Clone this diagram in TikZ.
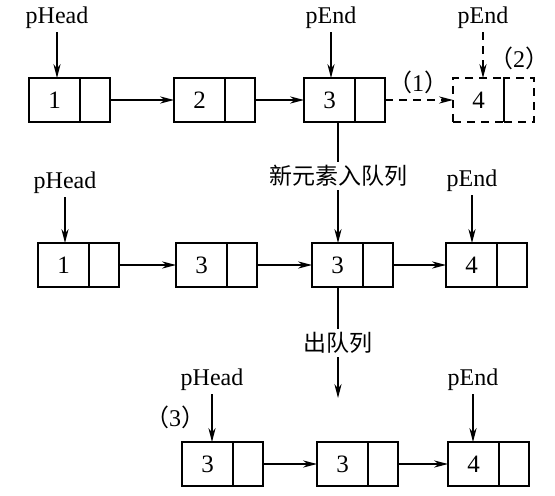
\documentclass[tikz,border=0pt]{standalone}
\usepackage{fontspec}
\setmainfont{Liberation Serif}
\newfontfamily\cjk{Noto Sans CJK SC}
\usetikzlibrary{arrows.meta}

\tikzset{
  dat/.style={draw, line width=0.9pt, minimum width=25.5pt, minimum height=22pt, inner sep=0pt, outer sep=0pt, anchor=north west, font=\rmfamily\fontsize{12.5}{14}\selectfont},
  ptr/.style={draw, line width=0.9pt, minimum width=15pt, minimum height=22pt, inner sep=0pt, outer sep=0pt, anchor=west},
  lbl/.style={inner sep=1.5pt, font=\rmfamily\fontsize{12}{14}\selectfont},
  cjklbl/.style={inner sep=1.5pt, font=\cjk\fontsize{11.5}{13}\selectfont},
  dsh/.style={dash pattern=on 4pt off 3pt}
}

\begin{document}
\begin{tikzpicture}[x=0.5pt, y=-0.5pt, line width=0.6pt, >={Stealth[length=7pt,width=3.6pt]}]
    \useasboundingbox (0,0) rectangle (555,496);

    % first row
    \node[dat] (a1) at (29,78) {1};
    \node[ptr] (a1p) at (a1.east) {};
    \node[dat] (a2) at (174,78) {2};
    \node[ptr] (a2p) at (a2.east) {};
    \node[dat] (a3) at (304,78) {3};
    \node[ptr] (a3p) at (a3.east) {};
    \node[dat, dsh] (a4) at (453,78) {4};
    \node[ptr, dsh] (a4p) at (a4.east) {};
    \draw[line width=0.9pt] (a4p.north west) -- (a4p.south west);

    \node[lbl] (h1) at (57,18) {pHead};
    \node[lbl] (e1) at (331,18) {pEnd};
    \node[lbl] (e2) at (483,18) {pEnd};
    \node[lbl] (s1) at (418,82) {{\cjk （}1{\cjk ）}};
    \node[lbl] (s2) at (519,58) {{\cjk （}2{\cjk ）}};

    \draw[->] (h1.south) -- (h1.south |- a1.north);
    \draw[->] (e1.south) -- (e1.south |- a3.north);
    \draw[->, dsh] (e2.south) -- (e2.south |- a4.north);
    \draw[->] (a1p.east) -- (a2.west);
    \draw[->] (a2p.east) -- (a3.west);
    \draw[->, dsh] (a3p.east) -- (a4.west);

    % second row
    \node[dat] (b1) at (38,243) {1};
    \node[ptr] (b1p) at (b1.east) {};
    \node[dat] (b2) at (176,243) {3};
    \node[ptr] (b2p) at (b2.east) {};
    \node[dat] (b3) at (312,243) {3};
    \node[ptr] (b3p) at (b3.east) {};
    \node[dat] (b4) at (446,243) {4};
    \node[ptr] (b4p) at (b4.east) {};

    \node[lbl] (h2) at (65,183) {pHead};
    \node[lbl] (e3) at (472,181) {pEnd};
    \node[cjklbl] (enq) at (338,176) {新元素入队列};

    \draw (enq.north) -- (enq.north |- a3.south);
    \draw[->] (enq.south) -- (enq.south |- b3.north);
    \draw[->] (h2.south) -- (h2.south |- b1.north);
    \draw[->] (e3.south) -- (e3.south |- b4.north);
    \draw[->] (b1p.east) -- (b2.west);
    \draw[->] (b2p.east) -- (b3.west);
    \draw[->] (b3p.east) -- (b4.west);

    % third row
    \node[dat] (c1) at (182,442) {3};
    \node[ptr] (c1p) at (c1.east) {};
    \node[dat] (c2) at (317,442) {3};
    \node[ptr] (c2p) at (c2.east) {};
    \node[dat] (c3) at (448,442) {4};
    \node[ptr] (c3p) at (c3.east) {};

    \node[lbl] (h3) at (212,380) {pHead};
    \node[lbl] (e4) at (473,380) {pEnd};
    \node[lbl] (s3) at (175,417) {{\cjk （}3{\cjk ）}};
    \node[cjklbl] (deq) at (338,343) {出队列};
    \coordinate (deqend) at (338,398);

    \draw (deq.north) -- (deq.north |- b3.south);
    \draw[->] (deq.south) -- (deqend);
    \draw[->] (h3.south) -- (h3.south |- c1.north);
    \draw[->] (e4.south) -- (e4.south |- c3.north);
    \draw[->] (c1p.east) -- (c2.west);
    \draw[->] (c2p.east) -- (c3.west);
\end{tikzpicture}
\end{document}
